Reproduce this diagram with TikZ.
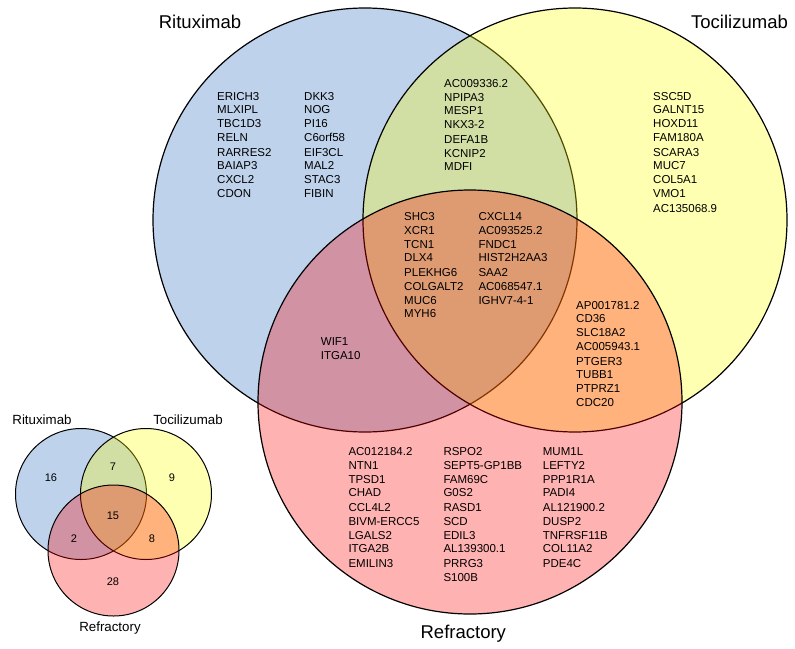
\documentclass[tikz,border=0pt]{standalone}
\usepackage{fontspec}
\setmainfont{Liberation Sans}
\definecolor{cblue}{RGB}{42,108,192}
\definecolor{cyel}{RGB}{255,255,0}
\definecolor{cred}{RGB}{255,0,0}
\tikzset{
  setc/.style={draw=black, line width=1.2pt, fill opacity=0.3, draw opacity=1},
  setsmall/.style={draw=black, line width=1pt, fill opacity=0.3, draw opacity=1},
  gene/.style={anchor=base west, inner sep=0pt, font=\fontsize{11.5}{13}\selectfont},
  bigtitle/.style={inner sep=0pt, font=\fontsize{18.5}{22}\selectfont},
  smalltitle/.style={inner sep=0pt, font=\fontsize{13.3}{15}\selectfont},
  count/.style={inner sep=0pt, font=\fontsize{11}{13}\selectfont}
}
\newcommand\genecol[4]{%
  \foreach \g [count=\i] in {#4} {
    \pgfmathsetmacro\yy{#3 + 13.65*(\i-1) + 1.4*int((\i-1)/4) + 4.1}
    \node[gene] (#1-\i) at (#2,\yy) {\g};
  }}
\begin{document}
\begin{tikzpicture}[x=1pt,y=-1pt]
\useasboundingbox (0,0) rectangle (795,648);
\fill[white] (0,0) rectangle (795,648);
% main diagram
\draw[setc, fill=cblue] (365,220) circle[radius=212pt];
\draw[setc, fill=cyel] (575,220) circle[radius=212pt];
\draw[setc, fill=cred] (470,402) circle[radius=212pt];
\node[bigtitle] (tR) at (200,21.7) {Rituximab};
\node[bigtitle] (tT) at (739.5,21.7) {Tocilizumab};
\node[bigtitle] (tF) at (463.3,633.3) {Refractory};
\genecol{ra}{217}{96}{ERICH3,MLXIPL,TBC1D3,RELN,RARRES2,BAIAP3,CXCL2,CDON}
\genecol{rb}{304}{96}{DKK3,NOG,PI16,C6orf58,EIF3CL,MAL2,STAC3,FIBIN}
\genecol{ry}{444}{83.3}{AC009336.2,NPIPA3,MESP1,NKX3-2,DEFA1B,KCNIP2,MDFI}
\genecol{yy}{653}{96}{SSC5D,GALNT15,HOXD11,FAM180A,SCARA3,MUC7,COL5A1,VMO1,AC135068.9}
\genecol{ta}{404}{216.7}{SHC3,XCR1,TCN1,DLX4,PLEKHG6,COLGALT2,MUC6,MYH6}
\genecol{tb}{478.3}{216.7}{CXCL14,AC093525.2,FNDC1,HIST2H2AA3,SAA2,AC068547.1,IGHV7-4-1}
\genecol{yf}{576}{305}{AP001781.2,CD36,SLC18A2,AC005943.1,PTGER3,TUBB1,PTPRZ1,CDC20}
\genecol{rf}{320.7}{341.7}{WIF1,ITGA10}
\genecol{fa}{348.3}{451.7}{AC012184.2,NTN1,TPSD1,CHAD,CCL4L2,BIVM-ERCC5,LGALS2,ITGA2B,EMILIN3}
\genecol{fb}{443.3}{451.7}{RSPO2,SEPT5-GP1BB,FAM69C,G0S2,RASD1,SCD,EDIL3,AL139300.1,PRRG3,S100B}
\genecol{fc}{542.7}{451.7}{MUM1L,LEFTY2,PPP1R1A,PADI4,AL121900.2,DUSP2,TNFRSF11B,COL11A2,PDE4C}
% inset
\draw[setsmall, fill=cblue] (81,494) circle[radius=65.5pt];
\draw[setsmall, fill=cyel] (146,494) circle[radius=65.5pt];
\draw[setsmall, fill=cred] (113.5,550.5) circle[radius=65.5pt];
\node[smalltitle] (sR) at (42,420) {Rituximab};
\node[smalltitle] (sT) at (188,420) {Tocilizumab};
\node[smalltitle] (sF) at (110,628) {Refractory};
\node[count] (n16) at (51,478) {16};
\node[count] (n7) at (113,467) {7};
\node[count] (n9) at (172,478) {9};
\node[count] (n15) at (113,516) {15};
\node[count] (n2) at (74,539) {2};
\node[count] (n8) at (152,539) {8};
\node[count] (n28) at (113,582) {28};
\end{tikzpicture}
\end{document}
